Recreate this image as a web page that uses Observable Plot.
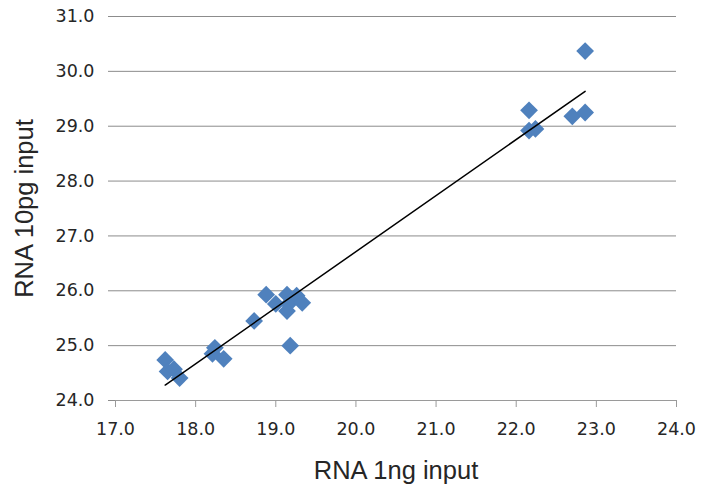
<!DOCTYPE html>
<html><head><meta charset="utf-8">
<script src="https://cdn.jsdelivr.net/npm/d3@7"></script>
<script src="https://cdn.jsdelivr.net/npm/@observablehq/plot@0.6"></script>
<style>body{margin:0;background:#fff} svg{display:block}</style>
</head><body><div id="chart"></div>
<script>
// Data
const rna1ng  = [17.62, 17.65, 17.73, 17.80, 18.24, 18.21, 18.35, 18.73, 18.88, 19.00, 19.14, 19.16, 19.14, 19.26, 19.33, 19.18, 22.16, 22.16, 22.24, 22.70, 22.86, 22.86];
const rna10pg = [24.74, 24.53, 24.57, 24.41, 24.96, 24.85, 24.76, 25.45, 25.93, 25.76, 25.93, 25.76, 25.63, 25.91, 25.78, 25.00, 29.29, 28.92, 28.95, 29.18, 30.37, 29.25];
const xTicks = [17, 18, 19, 20, 21, 22, 23, 24];
const yTicks = [24, 25, 26, 27, 28, 29, 30, 31];
const xTitle = "RNA 1ng input";
const yTitle = "RNA 10pg input";

const data = rna1ng.map((x, i) => ({x, y: rna10pg[i]}));
const gridColor = "#8c8c8c";
const axisColor = "#9a9a9a";
const textColor = "#262626";
const tickFont = "DejaVu Sans";
const titleFont = "Liberation Sans";
const fmt = d => d.toFixed(1);

const chart = Plot.plot({
  width: 713, height: 489,
  marginLeft: 115, marginRight: 37, marginTop: 16, marginBottom: 89,
  style: {background: "#fff", fontFamily: tickFont},
  x: {domain: [17, 24]},
  y: {domain: [24, 31]},
  marks: [
    Plot.gridY(yTicks.slice(1), {stroke: gridColor, strokeOpacity: 1}),
    Plot.ruleY([24], {stroke: axisColor}),
    Plot.axisY(yTicks, {tickSize: 7, tickPadding: 14, stroke: gridColor, strokeOpacity: 1, fill: textColor, fontSize: 17.5, fontFamily: tickFont, tickFormat: fmt, label: null}),
    Plot.axisY({ticks: [], tickSize: 0, label: yTitle, labelAnchor: "center", labelOffset: 101, labelArrow: "none", fontSize: 25.5, fontFamily: titleFont, fill: textColor}),
    Plot.axisX(xTicks, {tickSize: 7, tickPadding: 15, stroke: axisColor, strokeOpacity: 1, fill: textColor, fontSize: 17.5, fontFamily: tickFont, tickFormat: fmt, label: null}),
    Plot.axisX({ticks: [], tickSize: 0, label: xTitle, labelAnchor: "center", labelOffset: 78, labelArrow: "none", fontSize: 25.5, fontFamily: titleFont, fill: textColor}),
    Plot.dot(data, {x: "x", y: "y", symbol: "diamond2", r: 8, fill: "#4F81BD", stroke: "none"}),
    Plot.linearRegressionY(data, {x: "x", y: "y", ci: 0, stroke: "black", strokeWidth: 1.5})
  ]
});
document.getElementById("chart").appendChild(chart);
</script>
</body></html>
